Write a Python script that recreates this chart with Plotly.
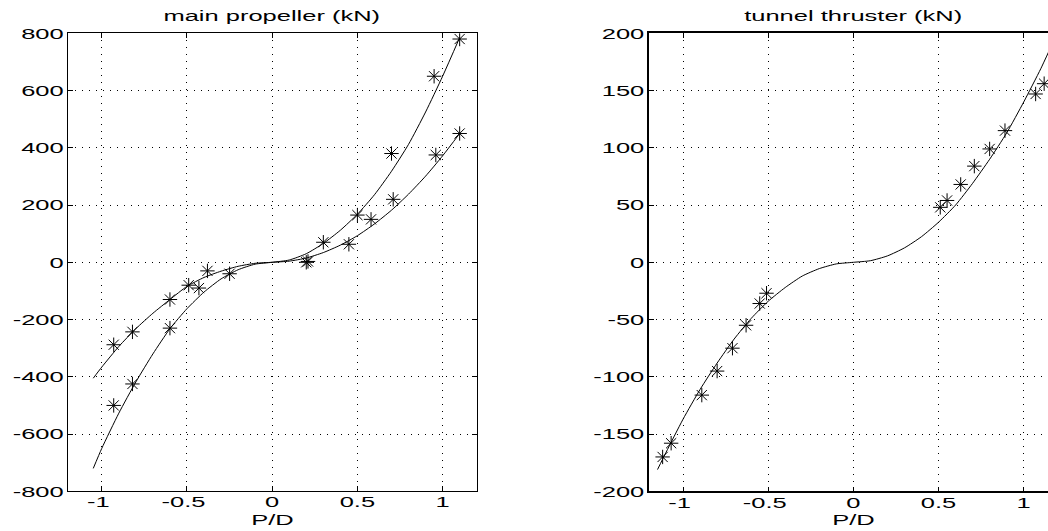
import plotly.graph_objects as go

# ---------------- main propeller (kN) ----------------
# measured thrust, steep branch
prop_a_pd = [1.10, 0.95, 0.70, 0.50, 0.30, 0.20, -0.25, -0.43, -0.60, -0.82, -0.93]
prop_a_kn = [780, 650, 380, 165, 70, 0, -40, -90, -230, -425, -500]
# measured thrust, flat branch
prop_b_pd = [1.10, 0.96, 0.71, 0.58, 0.45, 0.21, -0.38, -0.49, -0.60, -0.82, -0.93]
prop_b_kn = [450, 375, 220, 150, 63, 3, -30, -80, -130, -243, -288]

# fitted curves
fit_pd = [-1.05, -1.0, -0.9, -0.8, -0.7, -0.6, -0.5, -0.4, -0.3, -0.2, -0.1, 0.0,
          0.1, 0.2, 0.3, 0.4, 0.5, 0.6, 0.7, 0.8, 0.9, 1.0, 1.1]
fit_a_kn = [-720, -650, -527, -418, -320, -232, -162, -104, -58, -26, -6.5, 0,
            8, 30, 66, 112, 168, 236, 318, 412, 525, 650, 785]
fit_b_kn = [-405, -366, -294, -232, -178, -130, -84, -53, -31, -14, -3.5, 0,
            4, 15, 34, 60, 93, 134, 182, 238, 301, 372, 450]

# ---------------- tunnel thruster (kN) ----------------
tun_pd = [-1.12, -1.07, -0.89, -0.80, -0.71, -0.63, -0.55, -0.51,
          0.51, 0.55, 0.63, 0.71, 0.80, 0.89, 1.07, 1.12]
tun_kn = [-170, -158, -116, -95, -75, -55, -36, -27,
          48, 54, 68, 84, 99, 115, 147, 156]
tun_fit_pd = [-1.15, -1.1, -1.0, -0.9, -0.8, -0.7, -0.6, -0.5, -0.4, -0.3, -0.2, -0.1, 0.0,
              0.1, 0.2, 0.3, 0.4, 0.5, 0.6, 0.7, 0.8, 0.9, 1.0, 1.1, 1.15]
tun_fit_kn = [-181, -166, -137, -111, -88, -67, -49, -34, -22, -12, -5.5, -1.4, 0,
              1.4, 5.6, 12.6, 22.4, 35, 50, 69, 90, 113, 140, 169, 185]

# axis ticks (negative labels carry a trailing punctuation space so the digits sit centred)
x_tickvals = [-1, -0.5, 0, 0.5, 1]
x_ticktext = ["-1\u2008", "-0.5\u2008", "0", "0.5", "1"]
y1_tickvals = [-800, -600, -400, -200, 0, 200, 400, 600, 800]
y1_ticktext = ["-800", "-600", "-400", "-200", "0", "200", "400", "600", "800"]
y2_tickvals = [-200, -150, -100, -50, 0, 50, 100, 150, 200]
y2_ticktext = ["-200", "-150", "-100", "-50", "0", "50", "100", "150", "200"]

W, H = 1048, 531
FONT = dict(family="Liberation Sans, Arial, sans-serif", size=15, color="black")

fig = go.Figure()

line_style = dict(color="black", width=1)
marker_style = dict(symbol="asterisk-open", size=12, line=dict(color="black", width=1), color="black")

for xs, ys in [(fit_pd, fit_a_kn), (fit_pd, fit_b_kn)]:
    fig.add_trace(go.Scatter(x=xs, y=ys, mode="lines", line=dict(shape="spline", smoothing=0.6, **line_style),
                             xaxis="x", yaxis="y", showlegend=False, hoverinfo="skip"))
for xs, ys in [(prop_a_pd, prop_a_kn), (prop_b_pd, prop_b_kn)]:
    fig.add_trace(go.Scatter(x=xs, y=ys, mode="markers", marker=marker_style,
                             xaxis="x", yaxis="y", showlegend=False, cliponaxis=True))

fig.add_trace(go.Scatter(x=tun_fit_pd, y=tun_fit_kn, mode="lines",
                         line=dict(shape="spline", smoothing=0.6, **line_style),
                         xaxis="x2", yaxis="y2", showlegend=False, hoverinfo="skip"))
fig.add_trace(go.Scatter(x=tun_pd, y=tun_kn, mode="markers", marker=marker_style,
                         xaxis="x2", yaxis="y2", showlegend=False, cliponaxis=True))

grid = dict(showgrid=True, gridcolor="black", gridwidth=1, griddash="1px,6px", zeroline=False)
common = dict(ticks="inside", ticklen=5, tickcolor="black", showline=True, linecolor="black",
              tickfont=FONT, automargin=False, **grid)

px_per_unit = 170.4
x0_right = 853.3
x2_max = (W - x0_right) / px_per_unit

y_dom = [(H - 491.3) / H, (H - 33.3) / H]

fig.update_layout(
    template="none",
    width=W, height=H,
    margin=dict(l=0, r=0, t=0, b=0, pad=0),
    paper_bgcolor="white", plot_bgcolor="white",
    font=FONT,
    xaxis=dict(domain=[67.7 / W, 476.7 / W], range=[-1.2, 1.2], tickvals=x_tickvals, ticktext=x_ticktext,
               mirror="allticks", linewidth=1, anchor="y", ticklabelstandoff=-3, **common),
    yaxis=dict(domain=y_dom, range=[-800, 800], tickvals=y1_tickvals, ticktext=y1_ticktext,
               mirror="allticks", linewidth=1, anchor="x", **common),
    xaxis2=dict(domain=[649.0 / W, 1.0], range=[-1.2, x2_max], tickvals=x_tickvals, ticktext=x_ticktext,
                mirror="allticks", linewidth=1.5, anchor="y2", ticklabelstandoff=-3, **common),
    yaxis2=dict(domain=y_dom, range=[-200, 200], tickvals=y2_tickvals, ticktext=y2_ticktext,
                mirror=False, linewidth=1.5, anchor="x2", **common),
    annotations=[
        dict(text="main propeller (kN)", x=0, xref="x", y=(H - 15.5) / H, yref="paper",
             showarrow=False, xanchor="center", yanchor="middle", font=FONT),
        dict(text="tunnel thruster (kN)", x=0, xref="x2", y=(H - 15.5) / H, yref="paper",
             showarrow=False, xanchor="center", yanchor="middle", font=FONT),
        dict(text="P/D", x=0, xref="x", y=(H - 519.5) / H, yref="paper",
             showarrow=False, xanchor="center", yanchor="middle", font=FONT),
        dict(text="P/D", x=0, xref="x2", y=(H - 519.5) / H, yref="paper",
             showarrow=False, xanchor="center", yanchor="middle", font=FONT),
    ],
)

# Widen the lettering horizontally, keeping each label's anchor point fixed.
stretch_js = """
var gd = document.getElementById('{plot_id}');
var s = 1.7;
var nodes = gd.querySelectorAll('.xaxislayer-above text, .yaxislayer-above text, text.annotation-text');
nodes.forEach(function(t){
  var x = parseFloat(t.getAttribute('x')) || 0;
  var tr = t.getAttribute('transform') || '';
  t.setAttribute('transform', tr + ' translate(' + (x * (1 - s)) + ',0) scale(' + s + ',1)');
});
document.body.style.margin = '0';
document.body.style.overflow = 'hidden';
"""

fig.write_html("out.html", post_script=stretch_js, config={"displayModeBar": False})
